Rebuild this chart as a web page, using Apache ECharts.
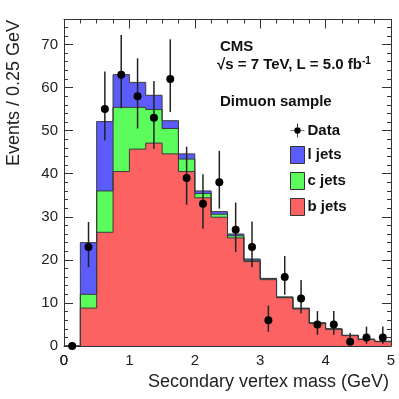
<!DOCTYPE html>
<html>
<head>
<meta charset="utf-8">
<script src="https://cdn.jsdelivr.net/npm/echarts@6/dist/echarts.min.js"></script>
<style>
  html, body { margin: 0; padding: 0; background: #fff; }
  #chart { width: 399px; height: 399px; }
</style>
</head>
<body>
<div id="chart"></div>
<script>
// bins (low edge, width 0.25 GeV)
var binEdges = [0, 0.25, 0.5, 0.75, 1, 1.25, 1.5, 1.75, 2, 2.25, 2.5, 2.75, 3, 3.25, 3.5, 3.75, 4, 4.25, 4.5, 4.75];
var binEnd = 5;

// simulated components
var bJets = [0, 8.8, 26.4, 40.5, 45.7, 47.1, 44.6, 40.5, 34.4, 29.9, 25.1, 19.6, 15.4, 11.2, 8.6, 5.2, 3.9, 2.4, 1.5, 1.0];
var cJets = [0, 3.2, 9.6, 14.9, 9.7, 7.8, 5.9, 2.9, 1.0, 0.7, 0.5, 0.3, 0.2, 0.1, 0.1, 0.1, 0.05, 0.05, 0.05, 0.05];
var lJets = [0, 12.0, 16.1, 7.6, 5.8, 3.3, 1.8, 1.2, 0.6, 0.6, 0.4, 0.3, 0.1, 0.1, 0.1, 0.1, 0.05, 0.05, 0.05, 0.05];

// data points and error bars
var dataX = [0.125, 0.375, 0.625, 0.875, 1.125, 1.375, 1.625, 1.875, 2.125, 2.375, 2.625, 2.875, 3.125, 3.375, 3.625, 3.875, 4.125, 4.375, 4.625, 4.875];
var dataY = [0, 23, 55, 63, 58, 53, 62, 39, 33, 38, 27, 23, 6, 16, 11, 5, 5, 1, 2, 2];
var dataLo = [0, 18.3, 47.7, 55.2, 50.5, 45.8, 54.3, 32.8, 27.2, 31.9, 21.8, 18.3, 3.3, 11.9, 7.6, 2.6, 2.6, 0.2, 0.5, 0.5];
var dataHi = [0, 28.8, 63.7, 72.2, 66.8, 61.5, 71.2, 46.3, 39.9, 45.3, 33.3, 28.9, 9.4, 20.9, 15.3, 8.1, 8.1, 3.0, 4.5, 4.5];

var xTicks = [0, 1, 2, 3, 4, 5];
var yMax = 75.8;

var colBlue = '#5c5cfc';
var colGreen = '#5cfc5c';
var colRed = '#fc6262';
var font = '"Liberation Sans", Arial, Helvetica, sans-serif';

// cumulative tops of the stack
var cTop = bJets.map(function (v, i) { return v + cJets[i]; });
var lTop = cTop.map(function (v, i) { return v + lJets[i]; });

var stepData = function (arr) {
  var d = binEdges.map(function (e, i) { return [e, arr[i]]; });
  d.push([binEnd, arr[arr.length - 1]]);
  return d;
};

var histSeries = function (name, arr, color) {
  return {
    name: name,
    type: 'line',
    step: 'end',
    symbol: 'none',
    data: stepData(arr),
    itemStyle: { color: color },
    lineStyle: { color: '#3a3a3a', width: 1 },
    areaStyle: { color: color, opacity: 1, origin: 'start' },
    emphasis: { disabled: true },
    z: 2
  };
};

var myChart = echarts.init(document.getElementById('chart'));

var axisCommon = {
  axisLine: { show: true, onZero: false, lineStyle: { color: '#333', width: 1 } },
  splitLine: { show: false }
};

var option = {
  animation: false,
  backgroundColor: '#fff',
  grid: { left: 64, right: 8, top: 19.5, bottom: 53 },
  legend: {
    orient: 'vertical',
    left: 290,
    top: 123,
    itemWidth: 14,
    itemHeight: 17,
    itemGap: 8,
    padding: 0,
    textStyle: { fontFamily: font, fontWeight: 'bold', fontSize: 15, color: '#111', padding: [0, 0, 0, -2] },
    itemStyle: { borderColor: '#333', borderWidth: 1 },
    data: [
      { name: 'Data', icon: 'path://M9,0h1v19h-1z M0,9h19v1h-19z M5.2,9.5a4.3,4.3 0 1,1 8.6,0a4.3,4.3 0 1,1 -8.6,0z', itemStyle: { color: '#000', borderWidth: 0 } },
      { name: 'l jets', icon: 'rect', itemStyle: { color: colBlue } },
      { name: 'c jets', icon: 'rect', itemStyle: { color: colGreen } },
      { name: 'b jets', icon: 'rect', itemStyle: { color: colRed } }
    ]
  },
  xAxis: [
    Object.assign({}, axisCommon, {
      type: 'value', min: 0, max: 5, interval: 1,
      axisTick: { inside: true, length: 9, lineStyle: { color: '#333' } },
      minorTick: { show: true, splitNumber: 4, length: 4, lineStyle: { color: '#333' } },
      axisLabel: {
        margin: 7, fontSize: 15, fontFamily: font, color: '#222',
        showMinLabel: true, showMaxLabel: true, hideOverlap: false,
        formatter: function (v) { return xTicks.indexOf(v) >= 0 ? String(v) : ''; }
      }
    }),
    Object.assign({}, axisCommon, {
      type: 'value', min: 0, max: 5, interval: 1, position: 'top',
      axisTick: { inside: true, length: 9, lineStyle: { color: '#333' } },
      minorTick: { show: true, splitNumber: 4, length: 4, lineStyle: { color: '#333' } },
      axisLabel: { show: false }
    })
  ],
  yAxis: [
    Object.assign({}, axisCommon, {
      type: 'value', min: 0, max: yMax, interval: 10,
      axisTick: { inside: true, length: 9, lineStyle: { color: '#333' } },
      minorTick: { show: true, splitNumber: 5, length: 4, lineStyle: { color: '#333' } },
      axisLabel: {
        margin: 6, fontSize: 15, fontFamily: font, color: '#222',
        showMinLabel: true, showMaxLabel: false, hideOverlap: false
      }
    }),
    Object.assign({}, axisCommon, {
      type: 'value', min: 0, max: yMax, interval: 10, position: 'right',
      axisTick: { inside: true, length: 9, lineStyle: { color: '#333' } },
      minorTick: { show: true, splitNumber: 5, length: 4, lineStyle: { color: '#333' } },
      axisLabel: { show: false }
    })
  ],
  series: [
    histSeries('l jets', lTop, colBlue),
    histSeries('c jets', cTop, colGreen),
    histSeries('b jets', bJets, colRed),
    {
      name: 'errors',
      type: 'custom',
      z: 4,
      data: dataX.map(function (x, i) { return [x, dataLo[i], dataHi[i]]; }),
      renderItem: function (params, api) {
        var p1 = api.coord([api.value(0), api.value(1)]);
        var p2 = api.coord([api.value(0), api.value(2)]);
        return {
          type: 'line',
          shape: { x1: p1[0], y1: p1[1], x2: p2[0], y2: p2[1] },
          style: { stroke: '#222', lineWidth: 1.5 }
        };
      }
    },
    {
      name: 'Data',
      type: 'scatter',
      symbol: 'circle',
      symbolSize: 8,
      z: 5,
      itemStyle: { color: '#000', opacity: 1 },
      data: dataX.map(function (x, i) { return [x, dataY[i]]; })
    }
  ],
  graphic: [
    {
      type: 'text', left: 220, top: 39,
      style: { text: 'CMS', font: 'bold 15px ' + font, fill: '#111' }
    },
    {
      type: 'text', left: 217, top: 56,
      style: {
        text: '{a|√s = 7 TeV, L = 5.0 fb}{b|-1}',
        rich: {
          a: { font: 'bold 15px ' + font, fill: '#111' },
          b: { font: 'bold 10px ' + font, fill: '#111', verticalAlign: 'top', padding: [0, 0, 8, 0] }
        }
      }
    },
    {
      type: 'text', left: 220, top: 94,
      style: { text: 'Dimuon sample', font: 'bold 15px ' + font, fill: '#111' }
    },
    {
      // x-axis origin label (the library drops it next to the y-axis 0)
      type: 'text', x: 64, y: 353,
      style: { text: '0', font: '15px ' + font, fill: '#222', align: 'center', verticalAlign: 'top' }
    },
    {
      type: 'text', x: 389, y: 382,
      style: { text: 'Secondary vertex mass (GeV)', font: '18px ' + font, fill: '#222', align: 'right', verticalAlign: 'middle' }
    },
    {
      type: 'text', x: 14, y: 20, rotation: Math.PI / 2,
      style: { text: 'Events / 0.25 GeV', font: '18px ' + font, fill: '#222', align: 'right', verticalAlign: 'middle' }
    }
  ]
};
myChart.setOption(option);
</script>
</body>
</html>
